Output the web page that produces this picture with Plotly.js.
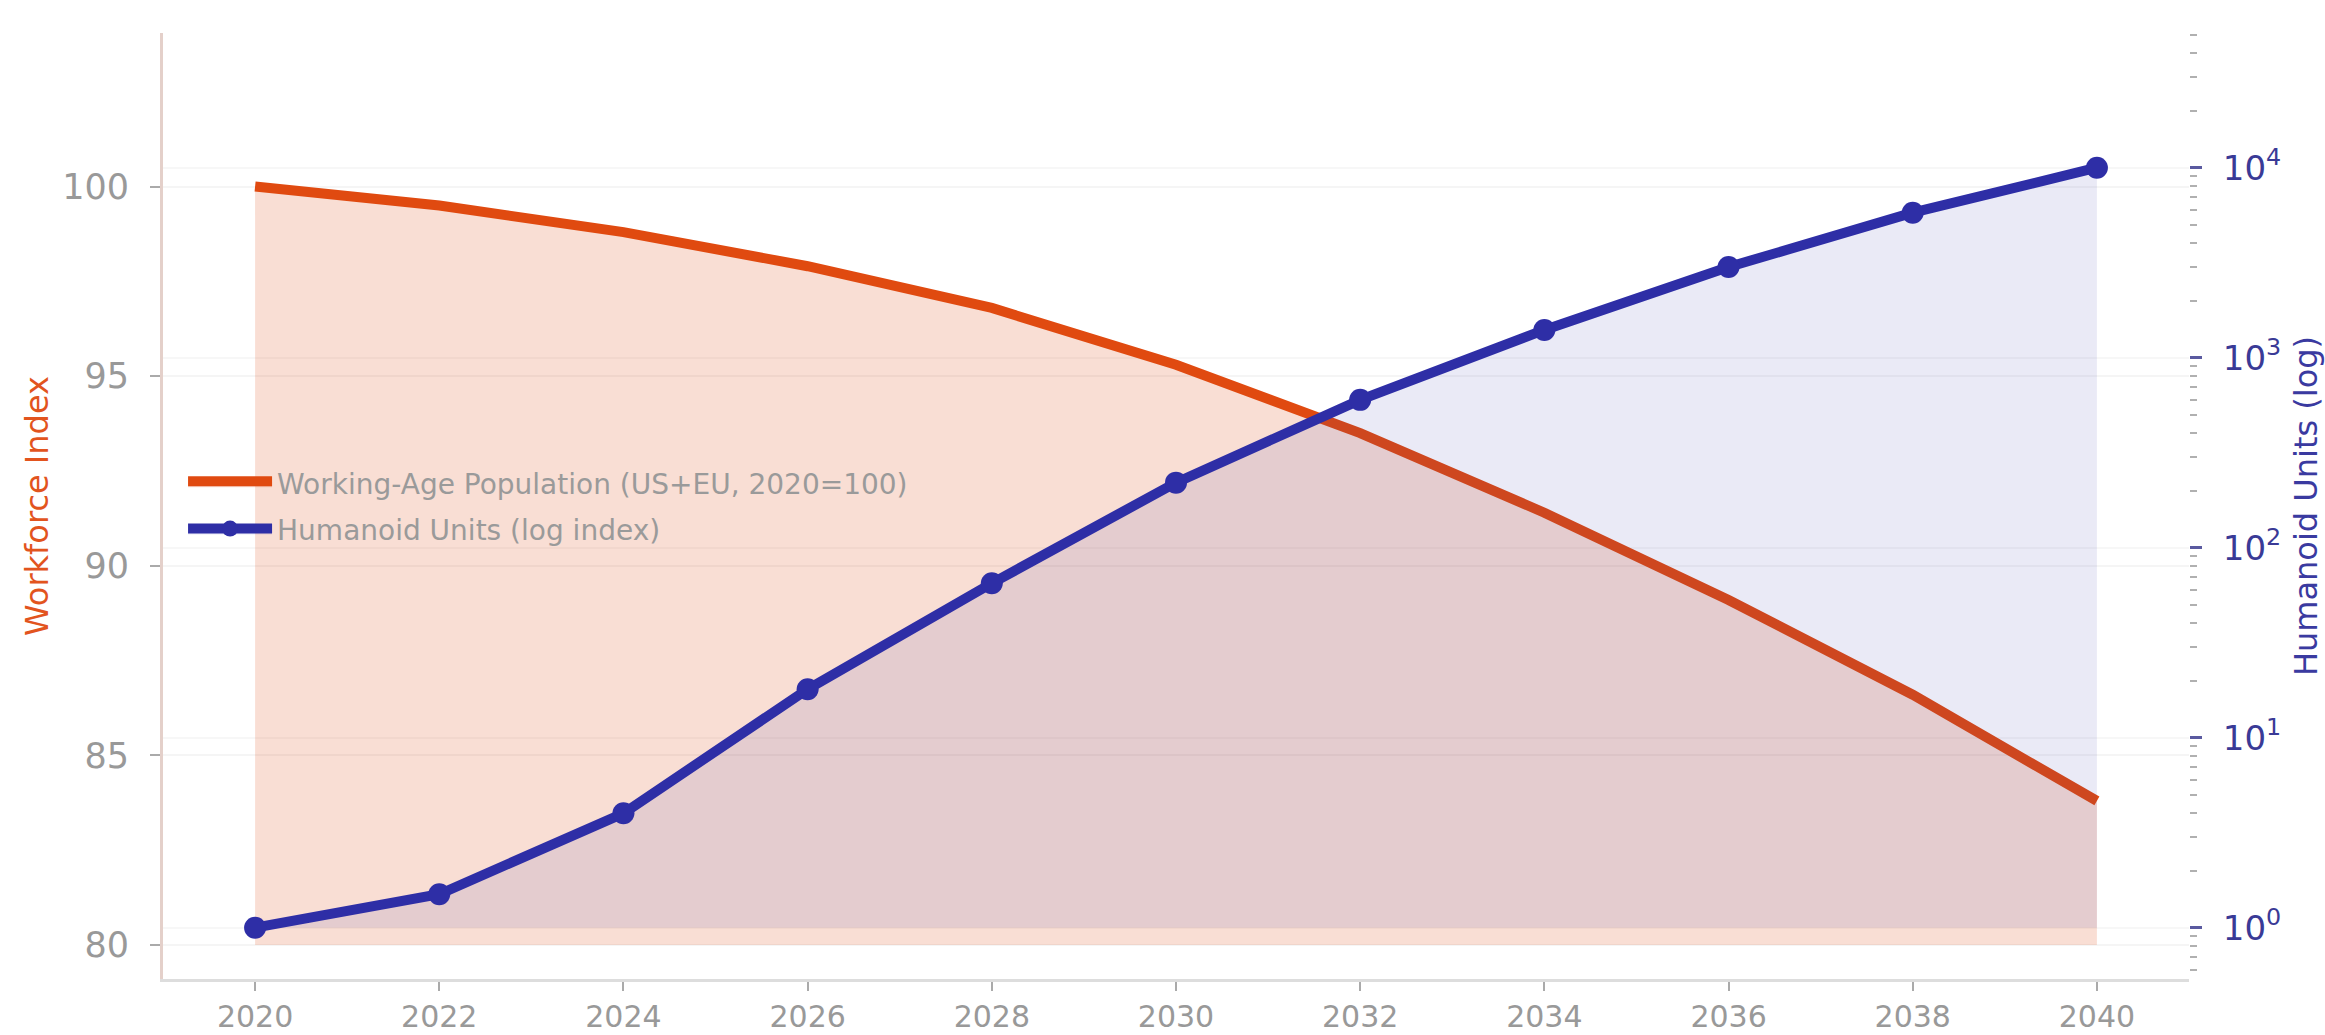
<!DOCTYPE html>
<html>
<head>
<meta charset="utf-8">
<script src="https://cdn.plot.ly/plotly-3.0.1.min.js"></script>
<style>
  html, body { margin: 0; padding: 0; background: #ffffff; }
  #chart { width: 2325px; height: 1035px; }
</style>
</head>
<body>
<div id="chart"></div>
<script>
// ---- data ----
const years = [2020, 2022, 2024, 2026, 2028, 2030, 2032, 2034, 2036, 2038, 2040];
const workforceIndex = [100, 99.5, 98.8, 97.9, 96.8, 95.3, 93.5, 91.4, 89.1, 86.6, 83.8];
const humanoidUnits = [1, 1.5, 4, 18, 65, 220, 600, 1400, 3000, 5800, 10000];
const xTicks = [2020, 2022, 2024, 2026, 2028, 2030, 2032, 2034, 2036, 2038, 2040];
const leftTicks = [80, 85, 90, 95, 100];
const rightTicks = [1, 10, 100, 1000, 10000];
const rightTickText = ['10<sup>0</sup>', '10<sup>1</sup>', '10<sup>2</sup>', '10<sup>3</sup>', '10<sup>4</sup>'];
const workforceBase = 80;   // fill_between baseline (left axis)
const humanoidBase = 1;     // fill_between baseline (right axis)
const seriesNames = ['Working-Age Population (US+EU, 2020=100)', 'Humanoid Units (log index)'];

// minor log ticks 2..9 x 10^k
const minorVals = [];
for (let k = -1; k <= 4; k++) {
  for (let d = 2; d <= 9; d++) minorVals.push(d * Math.pow(10, k));
}

const ORANGE = 'rgb(224,74,16)';
const BLUE = 'rgb(46,46,166)';
const FONT = 'DejaVu Sans, Liberation Sans, sans-serif';

const firstLast = [years[0], years[years.length - 1]];

const traces = [
  { x: firstLast, y: [workforceBase, workforceBase], xaxis: 'x', yaxis: 'y', mode: 'lines',
    line: { width: 0, color: 'rgba(0,0,0,0)' }, showlegend: false, hoverinfo: 'skip' },
  { x: years, y: workforceIndex, xaxis: 'x', yaxis: 'y', mode: 'lines', name: seriesNames[0],
    line: { color: ORANGE, width: 10 }, fill: 'tonexty', fillcolor: 'rgba(224,74,16,0.18)',
    legendgroup: 'a' },
  { x: firstLast, y: [humanoidBase, humanoidBase], xaxis: 'x', yaxis: 'y2', mode: 'lines',
    line: { width: 0, color: 'rgba(0,0,0,0)' }, showlegend: false, hoverinfo: 'skip' },
  { x: years, y: humanoidUnits, xaxis: 'x', yaxis: 'y2', mode: 'lines+markers', name: seriesNames[1],
    line: { color: BLUE, width: 10 }, marker: { color: BLUE, size: 22 },
    fill: 'tonexty', fillcolor: 'rgba(46,46,166,0.10)', legendgroup: 'b' }
];

const layout = {
  width: 2325, height: 1035,
  margin: { l: 163, r: 136, t: 33, b: 56 },
  paper_bgcolor: '#ffffff', plot_bgcolor: '#ffffff',
  font: { family: FONT, color: '#999999' },
  showlegend: true,
  legend: {
    x: 0.0099, y: 0.5, xanchor: 'left', yanchor: 'middle',
    bgcolor: 'rgba(0,0,0,0)', borderwidth: 0,
    font: { family: FONT, size: 28, color: '#9a9a9a' },
    tracegroupgap: 6, traceorder: 'grouped', itemwidth: 84
  },
  xaxis: {
    range: [2019, 2041], tickmode: 'array', tickvals: xTicks, ticktext: xTicks.map(String),
    ticks: 'outside', ticklen: 9, tickwidth: 2, tickcolor: '#aaaaaa',
    tickfont: { family: FONT, size: 30, color: '#999999' },
    showline: true, linecolor: '#dddddd', linewidth: 3,
    showgrid: false, zeroline: false, ticklabelstandoff: 0
  },
  yaxis: {
    range: [79.105, 104.05], tickmode: 'array', tickvals: leftTicks,
    ticks: 'outside', ticklen: 10, tickwidth: 2, tickcolor: '#aaaaaa',
    tickfont: { family: FONT, size: 35, color: '#999999' },
    showline: true, linecolor: 'rgb(228,208,202)', linewidth: 3,
    showgrid: true, gridcolor: '#f5f5f5', gridwidth: 2, zeroline: false,
    ticklabelstandoff: 14,
    title: { text: 'Workforce Index', font: { family: FONT, size: 32, color: 'rgb(226,84,30)' }, standoff: 4 }
  },
  yaxis2: {
    overlaying: 'y', side: 'right', type: 'log', range: [-0.27, 4.709],
    tickmode: 'array', tickvals: rightTicks, ticktext: rightTickText,
    ticks: 'outside', ticklen: 12, tickwidth: 3, tickcolor: 'rgb(90,90,160)',
    tickfont: { family: FONT, size: 34, color: 'rgb(58,58,150)' },
    minor: { tickmode: 'array', tickvals: minorVals, ticks: 'outside', ticklen: 7, tickwidth: 2,
             tickcolor: '#b0b0b0', showgrid: false },
    showline: false, showgrid: true, gridcolor: '#f7f7f7', gridwidth: 2, zeroline: false,
    ticklabelstandoff: 14,
    title: { text: 'Humanoid Units (log)', font: { family: FONT, size: 32, color: 'rgb(58,58,160)' }, standoff: 14 }
  }
};

Plotly.newPlot('chart', traces, layout, { displayModeBar: false, staticPlot: true });
</script>
</body>
</html>
